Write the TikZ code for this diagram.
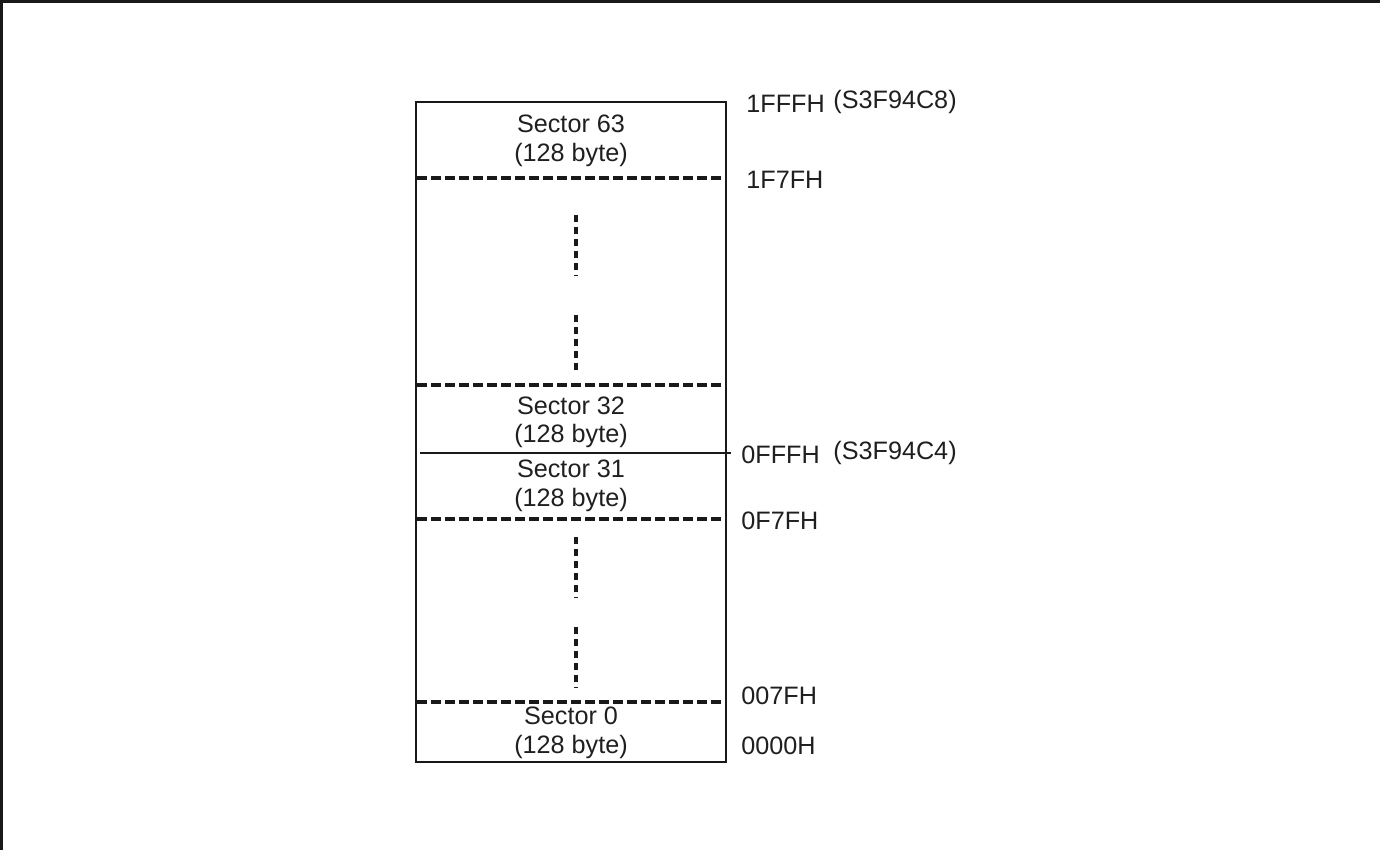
\documentclass[tikz,border=0pt]{standalone}
\usepackage{fontspec}
\setmainfont{Liberation Sans}
\begin{document}
\begin{tikzpicture}[x=0.5pt,y=-0.5pt,
  lbl/.style={font=\fontsize{12.6}{15}\selectfont, inner sep=0pt, text=black!88},
  addr/.style={lbl, anchor=west},
  boxline/.style={line width=0.9pt, draw=black!90},
  sepdash/.style={line width=1.6pt, draw=black!90, dash pattern=on 4.8pt off 2.2pt},
  vdash/.style={line width=1.6pt, draw=black!90, dash pattern=on 3.6pt off 2.4pt}]
\useasboundingbox (0,0) rectangle (1380,850);
% frame (top and left edges)
\draw[line width=1.4pt, draw=black!90] (1380,1.4) -- (1.4,1.4) -- (1.4,850);
% memory box
\draw[boxline] (416,102) rectangle (726,762);
\draw[boxline] (420,453) -- (731,453);
% dashed separators
\draw[sepdash] (417,178) -- (723,178);
\draw[sepdash] (417,385) -- (723,385);
\draw[sepdash] (417,519) -- (723,519);
\draw[sepdash] (417,702) -- (723,702);
% vertical dashes
\draw[vdash] (576,215) -- (576,276);
\draw[vdash] (576,315) -- (576,374);
\draw[vdash] (576,537) -- (576,598);
\draw[vdash] (576,627) -- (576,688);
% sector labels
\node[lbl] (s63) at (571,124) {Sector 63};
\node[lbl] (s63b) at (571,155) {(128 byte)};
\node[lbl] (s32) at (571,406) {Sector 32};
\node[lbl] (s32b) at (571,436) {(128 byte)};
\node[lbl] (s31) at (571,469) {Sector 31};
\node[lbl] (s31b) at (571,500) {(128 byte)};
\node[lbl] (s0) at (571,716) {Sector 0};
\node[lbl] (s0b) at (571,747) {(128 byte)};
% addresses
\node[addr] (a1) at (746,104) {1FFFH};
\node[addr] (c8) at (833,102) {(S3F94C8)};
\node[addr] (a2) at (746,180) {1F7FH};
\node[addr] (a3) at (741,455) {0FFFH};
\node[addr] (c4) at (833,453) {(S3F94C4)};
\node[addr] (a4) at (741,521) {0F7FH};
\node[addr] (a5) at (741,696) {007FH};
\node[addr] (a6) at (741,746) {0000H};
\end{tikzpicture}
\end{document}
